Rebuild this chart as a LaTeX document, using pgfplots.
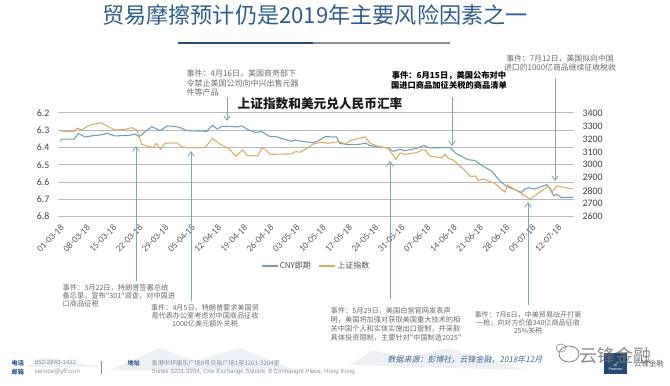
\documentclass[border=0pt]{standalone}
\usepackage{fontspec}
\usepackage{pgfplots}
\pgfplotsset{compat=1.18}
\usetikzlibrary{arrows.meta}
\setmainfont{Carlito}
\newfontfamily\cjk{Noto Sans CJK SC}
\newfontfamily\cjkslant[FakeSlant=0.2]{Noto Sans CJK SC}
\newfontfamily\lib{Liberation Sans}
\definecolor{gridc}{HTML}{B0BABF}
\definecolor{bl}{HTML}{6F9DBB}
\definecolor{org}{HTML}{E2A866}
\definecolor{arr}{HTML}{7FA6B8}
\definecolor{note}{HTML}{6A6A6A}
\definecolor{titlec}{HTML}{2F5C8F}
\definecolor{foot}{HTML}{8A929A}
\definecolor{mount}{HTML}{EDF1F6}
\pgfplotstableread{
x y
0 6.360
0.5 6.351
2.7 6.351
3.5 6.318
4.8 6.339
6.4 6.331
7.8 6.327
9.0 6.318
10.5 6.333
13.4 6.329
14.3 6.322
15.1 6.337
16.2 6.310
17.5 6.279
19.1 6.302
20.5 6.275
22.6 6.281
24.2 6.302
28.0 6.306
29.1 6.271
30.0 6.293
30.9 6.277
32.4 6.277
33.7 6.281
34.7 6.275
36 6.298
37.2 6.312
38.5 6.308
40.1 6.337
41 6.335
42.3 6.347
44.2 6.364
44.9 6.356
46.1 6.364
48.3 6.372
49.3 6.361
50.6 6.337
52.8 6.339
53.4 6.376
55 6.383
57.3 6.381
58.3 6.374
59.2 6.389
60.4 6.395
62.6 6.403
63.6 6.422
64.9 6.410
65.7 6.419
68.1 6.404
69.4 6.388
70.5 6.402
74.4 6.400
75.7 6.437
77.9 6.471
79.2 6.475
80.5 6.504
82.4 6.537
84 6.596
85.2 6.625
86.8 6.644
88.1 6.660
88.7 6.640
89.4 6.633
90.6 6.640
92.9 6.615
93.5 6.635
94.2 6.679
94.8 6.671
95.7 6.690
97.9 6.688
}\cny
\pgfplotstableread{
x y
0 3269
0.8 3256
2.7 3256
3.3 3284
4.1 3269
5.7 3307
7.8 3325
9.2 3295
10.5 3269
12.4 3274
13.7 3287
14.6 3269
15.1 3223
15.6 3158
17.2 3138
17.9 3135
18.4 3166
19.2 3120
20 3166
22.3 3169
23.2 3140
24.5 3130
27.7 3133
29.1 3205
30.5 3160
32.4 3120
33.5 3066
34.9 3115
35.7 3071
37.7 3068
38.5 3127
39.1 3122
40.1 3081
44.2 3084
45 3102
45.8 3097
47.4 3133
48.3 3161
49.9 3174
51.2 3166
53.1 3179
54.4 3161
55.7 3192
58.2 3215
59.2 3166
60.8 3140
62.6 3130
64.1 3042
64.9 3092
65.8 3081
68.1 3094
69 3115
69.7 3115
70.6 3068
72.8 3053
73.5 3081
74.1 3050
75.1 3035
77 2965
78.4 2909
79.3 2914
79.8 2878
80.8 2891
82.9 2857
84.9 2790
85.4 2844
87.8 2785
89.7 2734
93.2 2837
93.8 2785
94.8 2837
97.9 2813
}\sse
\begin{document}
\begin{tikzpicture}[x=0.75pt,y=0.75pt]
\path (0,0) rectangle (670,385);
% pale mountains behind the footer
\fill[mount] (25,18)--(45,27)--(70,24)--(100,18)--cycle;
\fill[mount] (110,15)--(160,37)--(195,24)--(240,37)--(295,15)--cycle;
\fill[mount] (350,20)--(372,35)--(405,27)--(448,37)--(525,15)--cycle;
\begin{axis}[at={(43.5pt,126.3pt)},anchor=south west,scale only axis,width=387pt,height=77.7pt,
  xmin=-0.38,xmax=98.09,ymin=6.2,ymax=6.8,y dir=reverse,
  axis line style={draw=none},major tick length=0pt,
  ytick={6.2,6.3,6.4,6.5,6.6,6.7,6.8},
  ymajorgrids,grid style={gridc,line width=0.75pt},
  /pgf/number format/assume math mode=true,
  /pgf/number format/fixed,/pgf/number format/fixed zerofill,/pgf/number format/precision=1,
  yticklabel style={font=\fontsize{7.4}{9}\selectfont,text=black!75},
  yticklabel shift=3pt,
  xtick={0,5,...,95},
  xticklabels={01-03-18,08-03-18,15-03-18,22-03-18,29-03-18,05-04-18,12-04-18,19-04-18,26-04-18,03-05-18,10-05-18,17-05-18,24-05-18,31-05-18,07-06-18,14-06-18,21-06-18,28-06-18,05-07-18,12-07-18},
  xticklabel style={rotate=45,anchor=north east,font=\fontsize{6.9}{8}\selectfont,text=black!65,inner sep=1pt},
  xticklabel shift=4pt]
\addplot[bl,line width=0.8pt] table[x=x,y=y] {\cny};
\end{axis}
\begin{axis}[at={(43.5pt,126.3pt)},anchor=south west,scale only axis,width=387pt,height=77.7pt,
  xmin=-0.38,xmax=98.09,ymin=2600,ymax=3400,
  axis line style={draw=none},major tick length=0pt,
  axis x line*=bottom,axis y line*=right,xtick=\empty,
  ytick={2600,2700,...,3400},
  /pgf/number format/assume math mode=true,
  /pgf/number format/1000 sep={},
  yticklabel style={font=\fontsize{7.4}{9}\selectfont,text=black!75},
  yticklabel shift=3pt,
  legend columns=2,
  legend style={at={(0.5,-0.477)},anchor=center,draw=none,fill=none,inner sep=0pt,font=\cjk\fontsize{6}{7}\selectfont,text=black!70,/tikz/every even column/.append style={column sep=5pt},nodes={inner sep=1pt}},
  legend image code/.code={\draw[#1,line width=0.8pt] (0pt,0pt)--(12pt,0pt);}]
\addlegendimage{bl}
\addlegendentry{CNY即期}
\addplot[org,line width=0.8pt] table[x=x,y=y] {\sse};
\addlegendentry{上证指数}
\end{axis}
% title and rule
\node[text=titlec,font=\cjk\fontsize{16.6}{18}\selectfont] at (315,370) {贸易摩擦预计仍是2019年主要风险因素之一};
\fill[titlec!85!black] (178,341) rectangle (313,343);
\fill[black!45] (313,341) rectangle (450,343);
\node[font=\cjk\bfseries\fontsize{9.5}{11}\selectfont,text=black!90] at (320,281) {上证指数和美元兑人民币汇率};
% arrows
\tikzset{ev/.style={arr,line width=0.6pt,-{Straight Barb[length=3.5pt,width=5pt]}}}
\draw[ev] (136,104)--(136,239);
\draw[ev] (191,84)--(191,234);
\draw[ev] (390,86)--(390,224);
\draw[ev] (528,80)--(528,183);
\draw[ev] (227,288)--(227,264);
\draw[ev] (452,288)--(452,239);
\draw[ev] (555,307)--(555,204);
% notes
\node[anchor=west,align=left,text=note,font=\cjk\fontsize{6}{7.1}\selectfont] at (182,302) {事件：4月16日，美国商务部下\\令禁止美国公司向中兴出售元器\\件等产品};
\node[align=center,text=black,font=\cjk\bfseries\fontsize{6.2}{7.5}\selectfont] at (449,305) {事件：6月15日，美国公布对中\\国进口商品加征关税的商品清单};
\node[align=center,text=note,font=\cjk\fontsize{5.9}{7.2}\selectfont] at (560,322) {事件：7月12日，美国拟向中国\\进口的1000亿商品继续征收税收};
\node[anchor=west,align=left,text=note,font=\cjk\fontsize{5.4}{6}\selectfont] at (58,89) {事件：3月22日，特朗普签署总统\\备忘录，宣布"301"调查，对中国进\\口商品征税};
\node[align=center,text=note,font=\cjk\fontsize{5.35}{6}\selectfont] at (205,69) {事件：4月5日，特朗普要求美国贸\\易代表办公室考虑对中国商品征收\\1000亿美元额外关税};
\node[anchor=west,align=left,text=note,font=\cjk\fontsize{5.4}{6.7}\selectfont] at (326,61) {事件：5月29日，美国白宫官网发表声\\明，美国将加强对获取美国重大技术的相\\关中国个人和实体实施出口管制，并采取\\具体投资限制，主要针对"中国制造2025"};
\node[align=center,text=note,font=\cjk\fontsize{5.3}{6}\selectfont] at (528,62) {事件：7月6日，中美贸易战开打第\\一枪，向对方价值340亿商品征收\\25\%关税};
% footer
\node[anchor=west,align=left,text=titlec,font=\cjk\bfseries\fontsize{4.6}{6.6}\selectfont] at (7,17.5) {电话\\邮箱};
\node[anchor=west,align=left,text=foot,font=\lib\fontsize{4.6}{6.6}\selectfont] at (30,17.5) {852-2843-1422\\service@yff.com};
\draw[black!45,line width=0.7pt] (101,11)--(101,24);
\node[anchor=west,text=titlec,font=\cjk\bfseries\fontsize{4.6}{6}\selectfont] at (123,22) {地址};
\node[anchor=west,text=foot,font=\cjk\fontsize{4.6}{6}\selectfont] at (147,22) {香港中环康乐广场8号交易广场1座3201-3204室};
\node[anchor=west,text=foot,font=\lib\fontsize{4.6}{6}\selectfont] at (147,13) {Suites 3201-3204, One Exchange Square, 8 Connaught Place, Hong Kong};
\node[text=titlec!70!gray,font=\cjkslant\fontsize{6}{7}\selectfont] at (465,25) {数据来源：彭博社，云锋金融，2018年12月};
% logo and watermark
\fill[titlec!80!black] (604,11) rectangle (627,32);
\node[text=white,align=center,font=\lib\fontsize{2.8}{3.4}\selectfont] at (615.5,18) {yff\\Pearson};
\node[text=black!60,font=\cjk\fontsize{5.6}{7}\selectfont] at (649,21) {云锋金融};
\node[text=black!55,opacity=0.85,font=\cjk\fontsize{13.5}{15}\selectfont] at (615,29) {云锋金融};
\draw[black!50,line width=0.6pt] (569,31) ellipse (10 and 8);
\draw[black!40,line width=0.5pt] (561,37) ellipse (5 and 4);
\end{tikzpicture}
\end{document}
